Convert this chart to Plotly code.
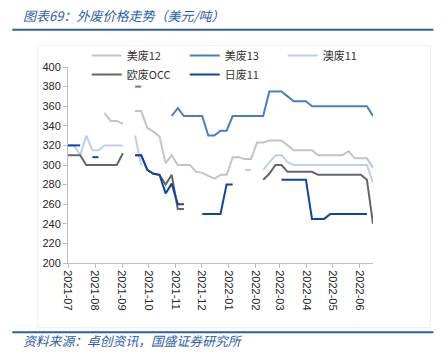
import plotly.graph_objects as go

# ---------------- data ----------------
dates = [
    "2021-07-01", "2021-07-08", "2021-07-15", "2021-07-22", "2021-07-29",
    "2021-08-05", "2021-08-12", "2021-08-19", "2021-08-26", "2021-09-02",
    "2021-09-09", "2021-09-16", "2021-09-23", "2021-09-30", "2021-10-07",
    "2021-10-14", "2021-10-21", "2021-10-28", "2021-11-04", "2021-11-11",
    "2021-11-18", "2021-11-25", "2021-12-02", "2021-12-09", "2021-12-16",
    "2021-12-23", "2021-12-30", "2022-01-06", "2022-01-13", "2022-01-20",
    "2022-01-27", "2022-02-03", "2022-02-10", "2022-02-17", "2022-02-24",
    "2022-03-03", "2022-03-10", "2022-03-17", "2022-03-24", "2022-03-31",
    "2022-04-07", "2022-04-14", "2022-04-21", "2022-04-28", "2022-05-05",
    "2022-05-12", "2022-05-19", "2022-05-26", "2022-06-02", "2022-06-09",
    "2022-06-16",
]

us12 = [None, None, None, None, None, None, 353, 345, 345, 342,
        None, 355, 355, 338, 334, 329, 302, 310, 300, 300,
        300, 293, 292, 289, 286, 290, 290, 308, 308, 306,
        306, 323, 323, 325, 325, 325, 320, 315, 315, 315,
        315, 310, 310, 310, 310, 310, 314, 307, 307, 307,
        297]

us13 = [None, None, None, None, None, None, None, None, None, None,
        None, 380, 380, None, None, None, None, 350, 358, 350,
        350, 350, 350, 330, 330, 335, 335, 350, 350, 350,
        350, 350, 350, 375, 375, 375, 370, 365, 365, 365,
        360, 360, 360, 360, 360, 360, 360, 360, 360, 360,
        350]

au11 = [320, 320, 310, 330, 315, 315, 320, 320, 320, 320,
        None, 330, 300, None, None, None, None, None, None, None,
        None, None, None, None, None, None, None, None, None, 295,
        295, None, 295, 303, 310, 310, 303, 300, 300, 300,
        300, 300, 300, 300, 300, 300, 300, 300, 300, 300,
        282]

eu_occ = [310, 310, 310, 300, 300, 300, 300, 300, 300, 312,
          None, 310, 310, 295, 291, 290, 280, 290, 255, 255,
          None, None, None, None, None, None, None, None, None, None,
          None, None, 285, 291, 300, 300, 293, 293, 293, 293,
          293, 290, 290, 290, 290, 290, 290, 290, 290, 285,
          240]

jp11 = [320, 320, 320, None, 308, 308, None, None, None, None,
        None, 310, 310, 295, 291, 290, 271, 281, 260, 260,
        None, None, 250, 250, 250, 250, 280, 280, None, None,
        None, None, None, None, None, 285, 285, 285, 285, 285,
        245, 245, 245, 250, 250, 250, 250, 250, 250, 250,
        None]

series_names = ["美废12", "美废13", "澳废11", "欧废OCC", "日废11"]

month_ticks = ["2021-07-01", "2021-08-01", "2021-09-01", "2021-10-01",
               "2021-11-01", "2021-12-01", "2022-01-01", "2022-02-01",
               "2022-03-01", "2022-04-01", "2022-05-01", "2022-06-01"]
month_labels = ["2021-07", "2021-08", "2021-09", "2021-10", "2021-11",
                "2021-12", "2022-01", "2022-02", "2022-03", "2022-04",
                "2022-05", "2022-06"]

title_text = "图表69：外废价格走势（美元/吨）"
source_text = "资料来源：卓创资讯，国盛证券研究所"

# ---------------- styling ----------------
colors = ["#C4C4C4", "#4A7DC5", "#BBD0EC", "#666666", "#0E45A1"]
W, H = 448, 360
L, R = 68.3, 372.7      # plot area left/right in px
T, B = 66.7, 263.3      # plot area top/bottom in px
BLUE = "#2F5DA9"
AXIS = "#BFBFBF"
CJK = "Noto Sans CJK SC"


def px_x(x):
    return (x - L) / (R - L)


def px_y(y):
    return (B - y) / (B - T)


fig = go.Figure()
for name, vals, col in zip(series_names, [us12, us13, au11, eu_occ, jp11], colors):
    fig.add_trace(go.Scatter(
        x=dates, y=vals, name=name, mode="lines",
        line=dict(color=col, width=2), connectgaps=False,
        hoverinfo="skip",
    ))

fig.update_layout(
    width=W, height=H,
    margin=dict(l=L, r=W - R, t=T, b=H - B, autoexpand=False),
    paper_bgcolor="white", plot_bgcolor="white",
    showlegend=True,
    legend=dict(
        orientation="h", xanchor="left", yanchor="top",
        x=px_x(87), y=px_y(40.5),
        entrywidth=53, entrywidthmode="pixels",
        font=dict(family=CJK, size=11, color="#333333"),
        bgcolor="rgba(0,0,0,0)", borderwidth=0,
        tracegroupgap=0,
    ),
    xaxis=dict(
        type="date", range=["2021-07-01", "2022-06-16"],
        tickvals=month_ticks, ticktext=month_labels, tickangle=90,
        ticks="outside", ticklen=4, tickcolor=AXIS, tickwidth=1,
        showline=True, linecolor=AXIS, linewidth=1,
        showgrid=False, zeroline=False,
        tickfont=dict(family="Liberation Sans, Arial", size=11, color="#262626"),
    ),
    yaxis=dict(
        range=[200, 400], tick0=200, dtick=20,
        ticks="outside", ticklen=4, tickcolor=AXIS, tickwidth=1,
        showline=True, linecolor=AXIS, linewidth=1,
        showgrid=False, zeroline=False,
        tickfont=dict(family="Liberation Sans, Arial", size=11, color="#262626"),
    ),
    shapes=[
        dict(type="rect", xref="paper", yref="paper",
             x0=px_x(38), x1=px_x(430), y0=px_y(328), y1=px_y(45),
             line=dict(color="#EFEFEF", width=1), layer="below"),
        dict(type="line", xref="paper", yref="paper",
             x0=px_x(12.7), x1=px_x(433), y0=px_y(29.3), y1=px_y(29.3),
             line=dict(color=BLUE, width=2)),
        dict(type="line", xref="paper", yref="paper",
             x0=px_x(12.7), x1=px_x(433), y0=px_y(332.7), y1=px_y(332.7),
             line=dict(color=BLUE, width=2)),
    ],
    annotations=[
        dict(text=title_text, xref="paper", yref="paper",
             x=px_x(21), y=px_y(15.5), xanchor="left", yanchor="middle",
             showarrow=False,
             font=dict(family=CJK, size=13, color=BLUE, style="italic")),
        dict(text=source_text, xref="paper", yref="paper",
             x=px_x(21), y=px_y(341), xanchor="left", yanchor="middle",
             showarrow=False,
             font=dict(family=CJK, size=12.8, color=BLUE, style="italic")),
    ],
)

fig.write_html(
    "out.html",
    config={"displayModeBar": False, "staticPlot": True},
    post_script="document.body.style.margin='0';document.body.style.padding='0';",
)
